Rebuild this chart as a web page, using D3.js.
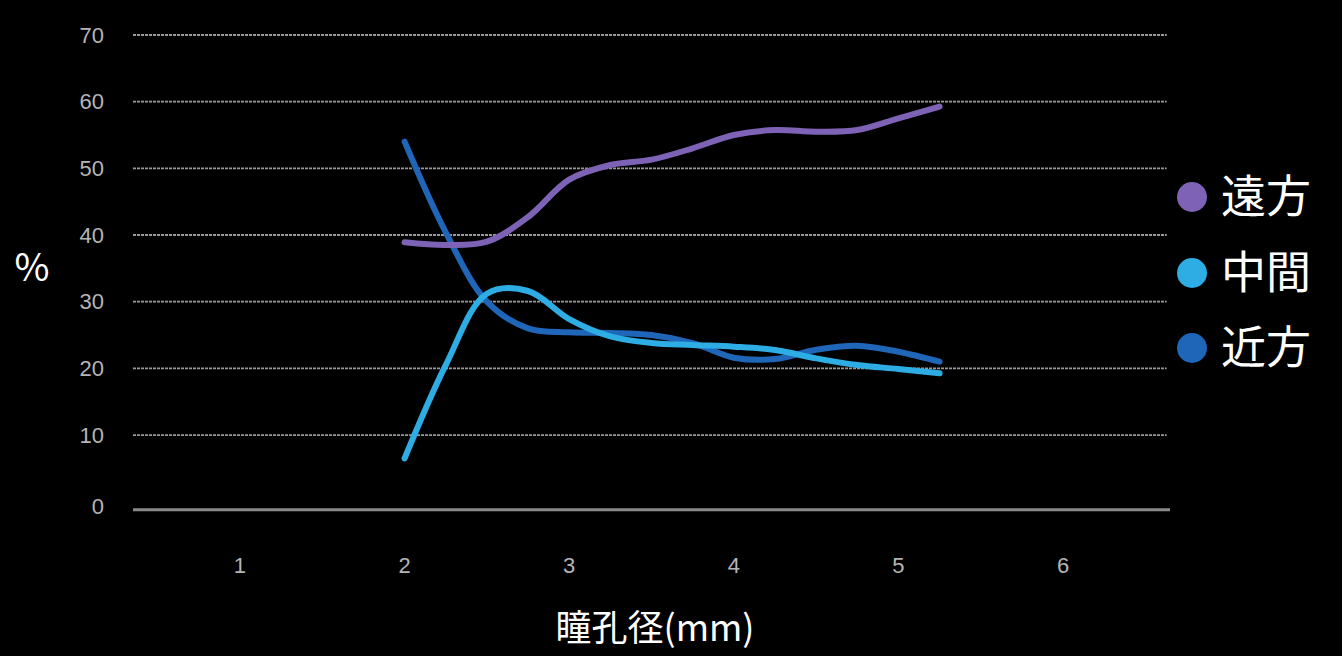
<!DOCTYPE html>
<html><head><meta charset="utf-8">
<script src="https://cdn.jsdelivr.net/npm/d3@7"></script>
<style>html,body{margin:0;padding:0;background:#000;}svg{display:block;}</style>
</head><body>
<svg id="c" width="1342" height="656"></svg>
<script>
const xValues = [2, 2.25, 2.5, 2.75, 3, 3.25, 3.5, 3.75, 4, 4.25, 4.5, 4.75, 5, 5.25];
const farValues  = [38.9, 38.5, 39.0, 42.7, 48.3, 50.5, 51.3, 53.0, 55.0, 55.75, 55.5, 55.75, 57.5, 59.25];
const midValues  = [6.5, 20.5, 31.2, 31.6, 27.4, 24.8, 23.8, 23.5, 23.25, 22.75, 21.5, 20.5, 19.9, 19.25];
const nearValues = [54.0, 40.4, 30.0, 26.0, 25.4, 25.3, 25.0, 23.8, 21.6, 21.4, 22.8, 23.4, 22.5, 21.0];
const seriesNames = ["遠方", "中間", "近方"];
const seriesColors = ["#7d62b6", "#2eace4", "#1f66b8"];
const yTicks = [0, 10, 20, 30, 40, 50, 60, 70];
const xTicks = [1, 2, 3, 4, 5, 6];
const yTitle = "%";
const xTitle = "瞳孔径(mm)";

const svg = d3.select("#c");
svg.append("rect").attr("width",1342).attr("height",656).attr("fill","#000");

const x = d3.scaleLinear().domain([0.35, 6.65]).range([133, 1170]);
const y = d3.scaleLinear().domain([0, 70]).range([501.7, 35]);

// grid
const grid = svg.append("g");
yTicks.filter(v => v > 0).forEach(v => {
  grid.append("line").attr("x1", x(0.35)).attr("x2", x(6.63))
    .attr("y1", y(v)).attr("y2", y(v))
    .attr("stroke", "#9a9a9a").attr("stroke-width", 1.8).attr("stroke-dasharray", "3,1");
});
// baseline
svg.append("line").attr("x1", x(0.35)).attr("x2", x(6.65))
  .attr("y1", y(0) + 8).attr("y2", y(0) + 8)
  .attr("stroke", "#8a8a8a").attr("stroke-width", 3);

const tickFont = "Liberation Sans, Arial, sans-serif";
// y labels
svg.append("g").selectAll("text").data(yTicks).join("text")
  .attr("x", 104).attr("y", d => d === 0 ? y(d) + 5 : y(d))
  .attr("dy", "0.35em").attr("text-anchor", "end")
  .attr("font-family", tickFont).attr("font-size", 22)
  .attr("fill", "#b5b5b5").text(d => d);

// x labels
svg.append("g").selectAll("text").data(xTicks).join("text")
  .attr("x", d => x(d)).attr("y", 565).attr("dy", "0.35em").attr("text-anchor", "middle")
  .attr("font-family", tickFont).attr("font-size", 22)
  .attr("fill", "#b5b5b5").text(d => d);

// titles
svg.append("text").attr("x", 32).attr("y", 268).attr("dy", "0.35em").attr("text-anchor", "middle")
  .attr("font-family", "Noto Sans CJK JP, sans-serif").attr("font-size", 38).attr("fill", "#fff").text(yTitle);
svg.append("text").attr("x", 655).attr("y", 628).attr("dy", "0.35em").attr("text-anchor", "middle")
  .attr("font-family", "Noto Sans CJK JP, sans-serif").attr("font-size", 36).attr("fill", "#fff")
  .text(xTitle);

// lines
const line = d3.line().x(d => x(d[0])).y(d => y(d[1])).curve(d3.curveCatmullRom.alpha(0.5));
const allSeries = [farValues, midValues, nearValues];
const order = [2, 1, 0];
order.forEach(i => {
  svg.append("path").datum(xValues.map((xv, k) => [xv, allSeries[i][k]]))
    .attr("d", line).attr("fill", "none").attr("stroke", seriesColors[i])
    .attr("stroke-width", 6).attr("stroke-linecap", "round").attr("stroke-linejoin", "round");
});

// legend
const legendY = [197, 273, 348];
const lg = svg.append("g");
seriesNames.forEach((n, i) => {
  lg.append("circle").attr("cx", 1192).attr("cy", legendY[i]).attr("r", 15).attr("fill", seriesColors[i]);
  lg.append("text").attr("x", 1221).attr("y", legendY[i]).attr("dy", "0.36em")
    .attr("font-family", "Noto Sans CJK JP, sans-serif").attr("font-size", 45).attr("fill", "#fff").text(n);
});
</script>
</body></html>
